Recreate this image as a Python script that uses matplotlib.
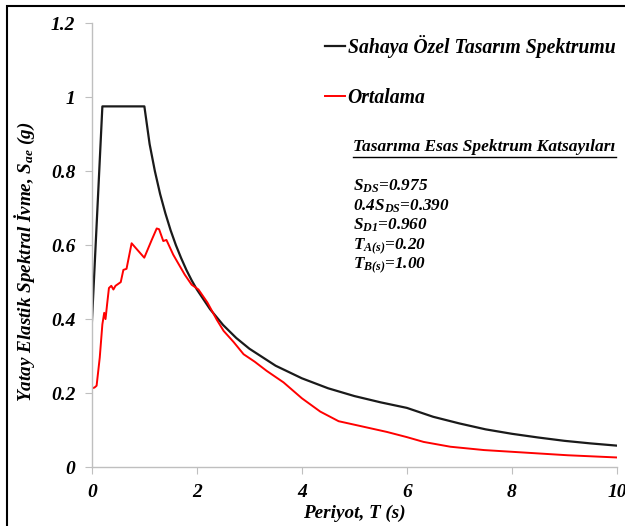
import matplotlib
matplotlib.use("Agg")
import matplotlib.pyplot as plt
from matplotlib.patches import Rectangle
from matplotlib.lines import Line2D

# Sahaya Ozel Tasarim Spektrumu
tasarimT = [0, 0.2, 1.0, 1.1, 1.2, 1.3, 1.4, 1.5, 1.6, 1.7, 1.8, 1.9, 2.0, 2.25, 2.5, 2.75, 3.0,
            3.5, 4.0, 4.5, 5.0, 5.5, 6.0, 6.5, 7.0, 7.5, 8.0, 8.5, 9.0, 9.5, 10.0]
tasarimSae = [0.39, 0.975, 0.975, 0.873, 0.80, 0.738, 0.686, 0.640, 0.600, 0.565, 0.533, 0.505, 0.480,
              0.427, 0.384, 0.349, 0.320, 0.274, 0.240, 0.213, 0.192, 0.175, 0.160, 0.136, 0.118,
              0.102, 0.090, 0.080, 0.071, 0.064, 0.058]

# Ortalama
ortT = [0.0, 0.05, 0.09, 0.15, 0.20, 0.235, 0.26, 0.29, 0.325, 0.37, 0.41, 0.45, 0.55, 0.60, 0.66,
        0.757, 0.88, 0.998, 1.14, 1.235, 1.28, 1.36, 1.42, 1.55, 1.68, 1.77, 1.90, 2.03, 2.20,
        2.38, 2.51, 2.70, 2.89, 3.10, 3.33, 3.65, 4.0, 4.35, 4.70, 5.05, 5.62, 6.0, 6.32, 6.83,
        7.47, 8.04, 9.06, 10.0]
ortSae = [0.213, 0.215, 0.22, 0.296, 0.386, 0.417, 0.40, 0.44, 0.484, 0.49, 0.48, 0.49, 0.50, 0.533,
          0.536, 0.605, 0.585, 0.566, 0.614, 0.645, 0.643, 0.611, 0.614, 0.574, 0.542, 0.52, 0.493,
          0.48, 0.445, 0.398, 0.368, 0.338, 0.305, 0.285, 0.26, 0.229, 0.186, 0.150, 0.124, 0.113,
          0.095, 0.081, 0.068, 0.055, 0.046, 0.041, 0.032, 0.026]

katsayilar = ["S$_{DS}$=0.975", "0.4S$_{DS}$=0.390", "S$_{D1}$=0.960", "T$_{A(s)}$=0.20", "T$_{B(s)}$=1.00"]

plt.rcParams['font.family'] = 'Liberation Serif'
plt.rcParams['font.weight'] = 'bold'
plt.rcParams['font.style'] = 'italic'
plt.rcParams['axes.labelweight'] = 'bold'
plt.rcParams['mathtext.fontset'] = 'custom'
plt.rcParams['mathtext.it'] = 'Liberation Serif:bold:italic'
plt.rcParams['mathtext.rm'] = 'Liberation Serif:bold:italic'
plt.rcParams['mathtext.bf'] = 'Liberation Serif:bold:italic'

fig = plt.figure(figsize=(6.25, 5.26), dpi=100)
ax = fig.add_axes([0.147, 0.112, 0.84, 0.844])

ax.plot(tasarimT, tasarimSae, color="#1a1a1a", lw=1.6, label="Sahaya Özel Tasarım Spektrumu")
ax.plot(ortT, ortSae, color="#ff0000", lw=1.4, label="Ortalama")

ax.set_xlim(0, 10)
ax.set_ylim(0, 1.2)
ax.set_xticks([0, 2, 4, 6, 8, 10])
ax.set_xticklabels(["0", "2", "4", "6", "8", "10"])
ax.set_yticks([0, 0.2, 0.4, 0.6, 0.8, 1.0, 1.2])
ax.set_yticklabels(["0", "0.2", "0.4", "0.6", "0.8", "1", "1.2"])
for s in ["top", "right"]:
    ax.spines[s].set_visible(False)
for s in ["left", "bottom"]:
    ax.spines[s].set_color("#bfbfbf")
    ax.spines[s].set_linewidth(1.0)
ax.tick_params(axis="both", direction="out", length=5, color="#bfbfbf", labelsize=14, pad=7)
ax.tick_params(axis="x", pad=7)

ax.set_xlabel("Periyot, T (s)", fontsize=13.8, labelpad=3)
ax.set_ylabel("Yatay Elastik Spektral İvme, S$_{ae}$ (g)", fontsize=13.8)
ax.yaxis.set_label_coords(-0.104, 0.462)

leg = ax.legend(loc="upper left", bbox_to_anchor=(0.444, 0.973), frameon=False, fontsize=14.2,
                handlelength=1.0, handletextpad=0.15, labelspacing=1.5, borderaxespad=0, borderpad=0)

baslik = fig.text(0.565, 0.712, "Tasarıma Esas Spektrum Katsayıları", fontsize=12.5, va="baseline")
for i, k in enumerate(katsayilar):
    fig.text(0.565, 0.638 - i * 0.0375, k, fontsize=12.3, va="baseline")

# underline for the heading
fig.canvas.draw()
bb = baslik.get_window_extent().transformed(fig.transFigure.inverted())
fig.add_artist(Line2D([bb.x0, bb.x1], [bb.y0 - 0.002, bb.y0 - 0.002], color="black", lw=1.0,
                      transform=fig.transFigure))

# outer frame
fig.add_artist(Rectangle((0.011, -0.1), 1.2, 1.1 - 0.011, transform=fig.transFigure, fill=False,
                         edgecolor="black", lw=1.5, clip_on=False))

fig.savefig("out.png", dpi=100)
